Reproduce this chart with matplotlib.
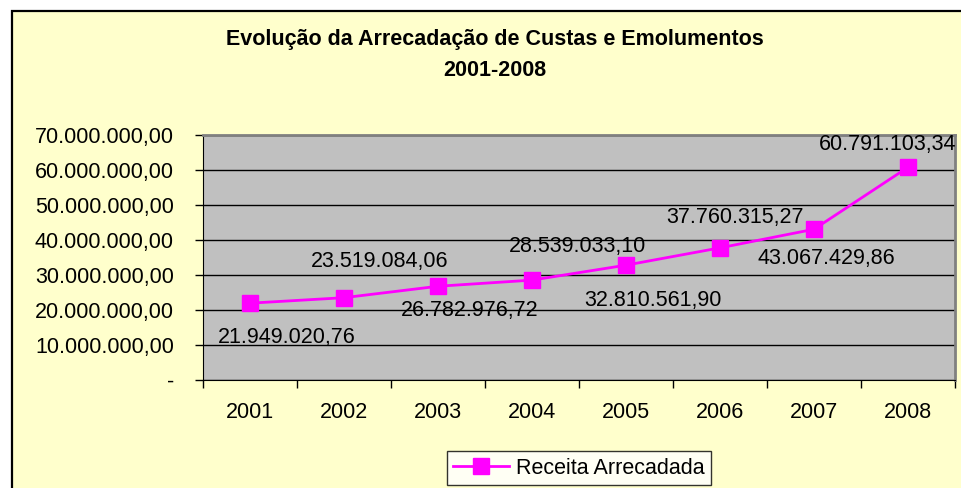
import matplotlib
matplotlib.use('Agg')
import matplotlib.pyplot as plt
from matplotlib.patches import Rectangle
from matplotlib.ticker import FuncFormatter, FixedLocator

YEARS = ['2001', '2002', '2003', '2004', '2005', '2006', '2007', '2008']
RECEITA = [21949020.76, 23519084.06, 26782976.72, 28539033.10,
           32810561.90, 37760315.27, 43067429.86, 60791103.34]
Y_TICKS = [0, 10e6, 20e6, 30e6, 40e6, 50e6, 60e6, 70e6]

TITLE = 'Evolução da Arrecadação de Custas e Emolumentos\n2001-2008'
SERIES = 'Receita Arrecadada'

# label offsets in pixels (dx, dy up) -- mimic Excel's placement
LABEL_OFFSETS = [(37, -34), (36, 36), (32, -24), (46, 34),
                 (27, -35), (15, 30), (12, -29), (-20, 23)]

MAGENTA = '#FF00FF'
FS = 15.5
plt.rcParams['font.family'] = ['Liberation Sans', 'DejaVu Sans']


def br_fmt(v):
    if v == 0:
        return '-'
    s = f"{v:,.2f}"
    return s.replace(',', 'X').replace('.', ',').replace('X', '.')


fig = plt.figure(figsize=(9.62, 4.88), dpi=100)
fig.patch.set_facecolor('white')
W, H = 962, 488
fig.add_artist(Rectangle((12 / W, -0.1), 1.0, 1.1 - 11 / H, transform=fig.transFigure,
                         facecolor='#FFFFCC', edgecolor='black', lw=1.6, zorder=0))

ax = fig.add_axes([203 / W, 1 - 380 / H, 752 / W, 245 / H])
ax.set_facecolor('#C0C0C0')
x = list(range(len(YEARS)))
ax.plot(x, RECEITA, color=MAGENTA, lw=2, marker='s', markersize=11,
        markeredgecolor=MAGENTA, label=SERIES, zorder=3, clip_on=False)

for i, v in enumerate(RECEITA):
    dx, dy = LABEL_OFFSETS[i]
    ax.annotate(br_fmt(v), (i, v), xytext=(dx, dy), textcoords='offset pixels',
                ha='center', va='center', fontsize=FS, color='black', zorder=4)

ax.set_xlim(-0.5, len(YEARS) - 0.5)
ax.set_ylim(0, 70e6)
ax.yaxis.set_major_locator(FixedLocator(Y_TICKS))
ax.yaxis.set_major_formatter(FuncFormatter(lambda v, p: br_fmt(v)))
ax.yaxis.grid(True, color='black', lw=1)
ax.set_axisbelow(True)
ax.tick_params(axis='y', direction='out', length=6, width=1, pad=15,
               labelsize=FS, colors='black')

ax.set_xticks([i - 0.5 for i in range(len(YEARS) + 1)])
ax.set_xticklabels([])
ax.set_xticks(x, minor=True)
ax.set_xticklabels(YEARS, minor=True)
ax.tick_params(axis='x', which='major', direction='out', length=6, width=1)
ax.tick_params(axis='x', which='minor', length=0, pad=16, labelsize=FS)

for side in ['top', 'right']:
    ax.spines[side].set_color('#808080')
    ax.spines[side].set_linewidth(2)
ax.spines['left'].set_color('black')
ax.spines['bottom'].set_color('black')

fig.text(495 / W, 1 - 55 / H, TITLE, ha='center', va='center', fontsize=15.5,
         fontweight='bold', linespacing=1.6)

leg = fig.legend(loc='center', bbox_to_anchor=(579 / W, 1 - 468 / H),
                 fontsize=FS, frameon=True, fancybox=False, handlelength=2.6,
                 borderpad=0.3, handletextpad=0.3)
leg.get_frame().set_edgecolor('black')
leg.get_frame().set_linewidth(1)

fig.savefig('out.png', dpi=100)
